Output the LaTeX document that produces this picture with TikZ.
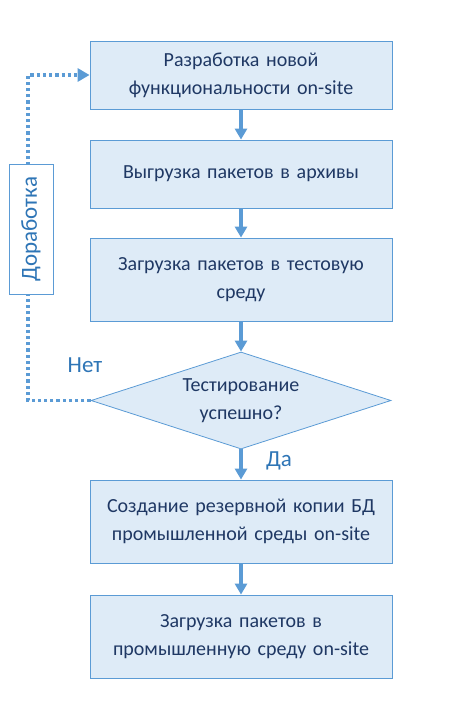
\documentclass[tikz,border=0pt]{standalone}
\usepackage{fontspec}
\setmainfont{Carlito}
\usetikzlibrary{shapes.geometric,arrows.meta}
\definecolor{lineblue}{HTML}{5B9BD5}
\definecolor{fillblue}{HTML}{DEEBF7}
\definecolor{textblue}{HTML}{1F3864}
\definecolor{labelblue}{HTML}{2E75B6}
\tikzset{
	box/.style={draw=lineblue, fill=fillblue, line width=.8pt, minimum width=302pt, text width=294pt, align=center, text=textblue, font=\fontsize{20}{28}\selectfont},
	boxtext/.style={align=center, text=textblue, font=\fontsize{20}{28}\selectfont},
	flow/.style={lineblue, line width=4pt, -{Triangle[length=11pt,width=12pt]}},
	loop/.style={lineblue, line width=3.2pt, dash pattern=on 3.2pt off 3pt, -{Triangle[length=12pt,width=13pt]}}
}
\begin{document}
\begin{tikzpicture}[x=1pt, y=-1pt]
	\useasboundingbox (0,0) rectangle (474,720);
	\node[box, minimum height=68pt](dev) at (241,75){Разработка новой\\функциональности on-site};
	\node[box, minimum height=68pt](export) at (241,174){Выгрузка пакетов в архивы};
	\node[box, minimum height=83pt](test) at (241,279.5){Загрузка пакетов в тестовую\\среду};
	\node[draw=lineblue, fill=fillblue, line width=.8pt, diamond, minimum width=300pt, minimum height=97pt, inner sep=0pt](check) at (241,400.5){};
	\node[boxtext](checktext) at (check.center){Тестирование\\успешно?};
	\node[box, minimum height=83pt](backup) at (241,521.5){Создание резервной копии БД\\промышленной среды on-site};
	\node[box, minimum height=83pt](prod) at (241,636.5){Загрузка пакетов в\\промышленную среду on-site};
	
	\draw[flow](dev)--(export);
	\draw[flow](export)--(test);
	\draw[flow](test)--(check);
	\draw[flow](check)--(backup);
	\draw[flow](backup)--(prod);
	
	\coordinate (lo) at (28,400.5);
	\coordinate (hi) at (28,75);
	\draw[loop](check.west)--(lo)--(hi)--(dev.west);
	\node[draw=lineblue, fill=white, line width=.8pt, minimum width=44pt, minimum height=130pt, inner sep=0pt](rework) at (31,229){};
	\node[rotate=90, text=labelblue, font=\fontsize{23}{26}\selectfont](reworktext) at (rework.center){Доработка};
	
	\node[text=labelblue, font=\fontsize{23}{26}\selectfont](no) at (85,365){Нет};
	\node[text=labelblue, font=\fontsize{23}{26}\selectfont](yes) at (279,461){Да};
\end{tikzpicture}
\end{document}
